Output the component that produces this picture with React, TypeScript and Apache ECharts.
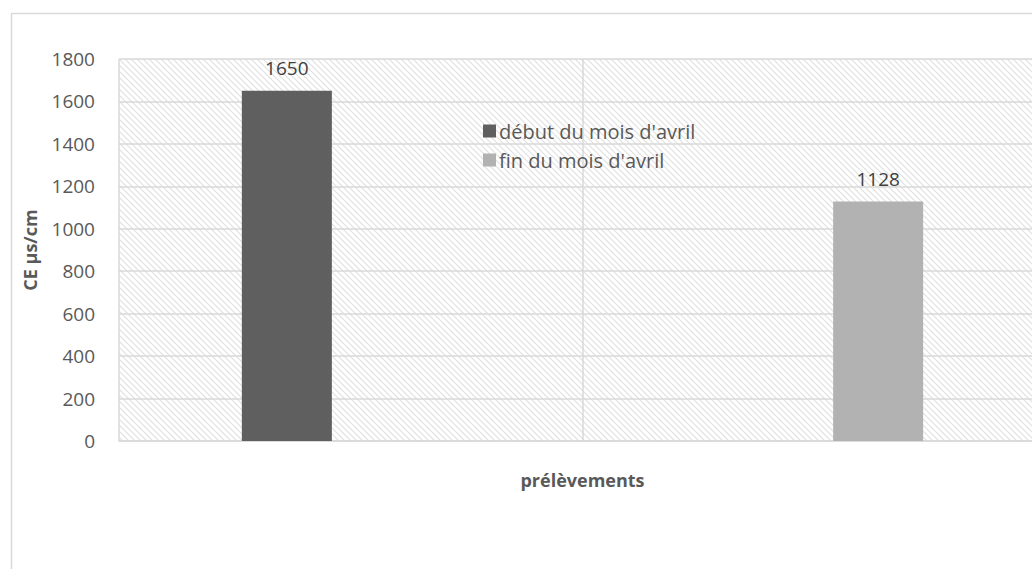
import React, { useEffect, useRef } from "react";
import * as echarts from "echarts";

const categories = ["", ""];
const seriesNames = ["début du mois d'avril", "fin du mois d'avril"];
const debutValues: (number | string)[] = [1650, "-"];
const finValues: (number | string)[] = ["-", 1128];
const yTicks = { min: 0, max: 1800, interval: 200 };
const colors = ["#5f5f5f", "#b2b2b2"];

const FONT = "'Open Sans', 'Noto Sans', sans-serif";

function makeHatch() {
  const s = 6;
  const c = document.createElement("canvas");
  c.width = s;
  c.height = s;
  const ctx = c.getContext("2d")!;
  ctx.fillStyle = "#ffffff";
  ctx.fillRect(0, 0, s, s);
  ctx.strokeStyle = "#e0e0e0";
  ctx.lineWidth = 1.2;
  ctx.beginPath();
  ctx.moveTo(-1, -1);
  ctx.lineTo(s + 1, s + 1);
  ctx.moveTo(-1, s - 1);
  ctx.lineTo(1, s + 1);
  ctx.moveTo(s - 1, -1);
  ctx.lineTo(s + 1, 1);
  ctx.stroke();
  return { image: c, repeat: "repeat", imageWidth: s, imageHeight: s };
}

export default function App() {
  const ref = useRef<HTMLDivElement>(null);
  useEffect(() => {
    if (!ref.current) return;
    const chart = echarts.init(ref.current, null, { renderer: "svg" });
    const hatch = makeHatch();
    chart.setOption({
      animation: false,
      backgroundColor: "#ffffff",
      textStyle: { fontFamily: FONT },
      graphic: [
        {
          type: "rect",
          z: -100,
          shape: { x: 11.5, y: 13.5, width: 1080, height: 600 },
          style: { fill: "none", stroke: "#d9d9d9", lineWidth: 1.5 },
        },
      ],
      grid: {
        show: true,
        left: 119,
        top: 59,
        bottom: 128,
        right: 14,
        backgroundColor: hatch,
        borderWidth: 0,
      },
      legend: {
        show: true,
        orient: "vertical",
        left: 478,
        top: 116,
        itemWidth: 13,
        itemHeight: 13,
        itemGap: 9,
        icon: "rect",
        data: seriesNames,
        textStyle: { fontSize: 20, color: "#595959", fontFamily: FONT, padding: [0, 0, 0, -2] },
      },
      xAxis: {
        type: "category",
        data: categories,
        name: "prélèvements",
        nameLocation: "middle",
        nameGap: 30,
        nameTextStyle: { fontSize: 18, fontWeight: "bold", color: "#595959", fontFamily: FONT },
        axisLine: { show: true, lineStyle: { color: "#d9d9d9", width: 1.5 } },
        axisTick: { show: false },
        axisLabel: { show: false },
        splitLine: { show: true, lineStyle: { color: "#d9d9d9", width: 1.5 } },
      },
      yAxis: {
        type: "value",
        min: yTicks.min,
        max: yTicks.max,
        interval: yTicks.interval,
        name: "CE µs/cm",
        nameLocation: "middle",
        nameRotate: 90,
        nameGap: 80,
        nameTextStyle: { fontSize: 18, fontWeight: "bold", color: "#595959", fontFamily: FONT },
        axisLine: { show: false },
        axisTick: { show: false },
        axisLabel: {
          fontSize: 19,
          color: "#595959",
          margin: 24,
          fontFamily: FONT,
          formatter: (v: number) => String(v),
        },
        splitLine: { show: true, lineStyle: { color: "#d9d9d9", width: 1.5 } },
      },
      series: [
        {
          name: seriesNames[0],
          type: "bar",
          data: debutValues,
          barWidth: 90,
          barGap: "42%",
          itemStyle: { color: colors[0] },
          label: { show: true, position: "top", distance: 13, fontSize: 19, color: "#404040", fontFamily: FONT },
        },
        {
          name: seriesNames[1],
          type: "bar",
          data: finValues,
          barWidth: 90,
          barGap: "42%",
          itemStyle: { color: colors[1] },
          label: { show: true, position: "top", distance: 13, fontSize: 19, color: "#404040", fontFamily: FONT },
        },
      ],
    });
    return () => chart.dispose();
  }, []);
  return (
    <div
      style={{ position: "absolute", left: 0, top: 0, width: 1032, height: 569, overflow: "hidden" }}
    >
      <div ref={ref} style={{ width: 1060, height: 569 }} />
    </div>
  );
}
